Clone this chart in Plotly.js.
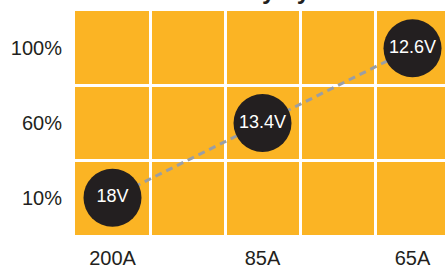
<!DOCTYPE html>
<html>
<head>
<meta charset="utf-8">
<script src="https://cdn.plot.ly/plotly-3.0.1.min.js"></script>
<style>html,body{margin:0;padding:0;background:#fff;}#chart{width:445px;height:267px;}</style>
</head>
<body>
<div id="chart"></div>
<script>
// Data
const currentCategories = ['200A', ' ', '85A', '  ', '65A'];
const capacityCategories = ['10%', '60%', '100%'];
const pointCurrents = ['200A', '85A', '65A'];
const pointCapacities = ['10%', '60%', '100%'];
const pointVoltages = ['18V', '13.4V', '12.6V'];
const chartTitle = 'Efficiency by Load';

const FONT = '"Liberation Sans", Arial, sans-serif';

const lineTrace = {
  x: pointCurrents, y: pointCapacities,
  type: 'scatter', mode: 'lines',
  line: {color: '#9a9ea4', width: 3, dash: '7px,5px'},
  hoverinfo: 'skip', showlegend: false
};
const markerTrace = {
  x: pointCurrents, y: pointCapacities,
  type: 'scatter', mode: 'markers+text',
  text: pointVoltages, textposition: 'middle center',
  textfont: {family: FONT, size: 18, color: '#ffffff'},
  marker: {size: 58, color: '#231f20', line: {width: 0}},
  showlegend: false
};

const layout = {
  width: 445, height: 267,
  margin: {l: 75, r: 0, t: 11, b: 32},
  paper_bgcolor: '#ffffff',
  plot_bgcolor: '#fbb424',
  annotations: [{
    text: '<b>' + chartTitle + '</b>', showarrow: false,
    xref: 'paper', yref: 'paper', x: (268 - 75) / 370, y: 1, xanchor: 'center', yanchor: 'bottom',
    yshift: 5, font: {family: FONT, size: 24, color: '#231f20'}
  }],
  xaxis: {
    type: 'category', categoryorder: 'array', categoryarray: currentCategories,
    range: [-0.5, 4.433], tickson: 'boundaries', showgrid: true, gridcolor: '#ffffff', gridwidth: 3,
    zeroline: false, showline: false, ticks: '', ticklen: 0, ticklabelstandoff: 9,
    tickfont: {family: FONT, size: 20, color: '#231f20'}, fixedrange: true
  },
  yaxis: {
    type: 'category', categoryorder: 'array', categoryarray: capacityCategories,
    range: [-0.5, 2.5], tickson: 'boundaries', showgrid: true, gridcolor: '#ffffff', gridwidth: 3,
    zeroline: false, showline: false, ticks: '', ticklen: 0, ticklabelstandoff: 12,
    tickfont: {family: FONT, size: 20, color: '#231f20'}, fixedrange: true
  }
};

Plotly.newPlot('chart', [lineTrace, markerTrace], layout, {displayModeBar: false, staticPlot: true});
</script>
</body>
</html>
